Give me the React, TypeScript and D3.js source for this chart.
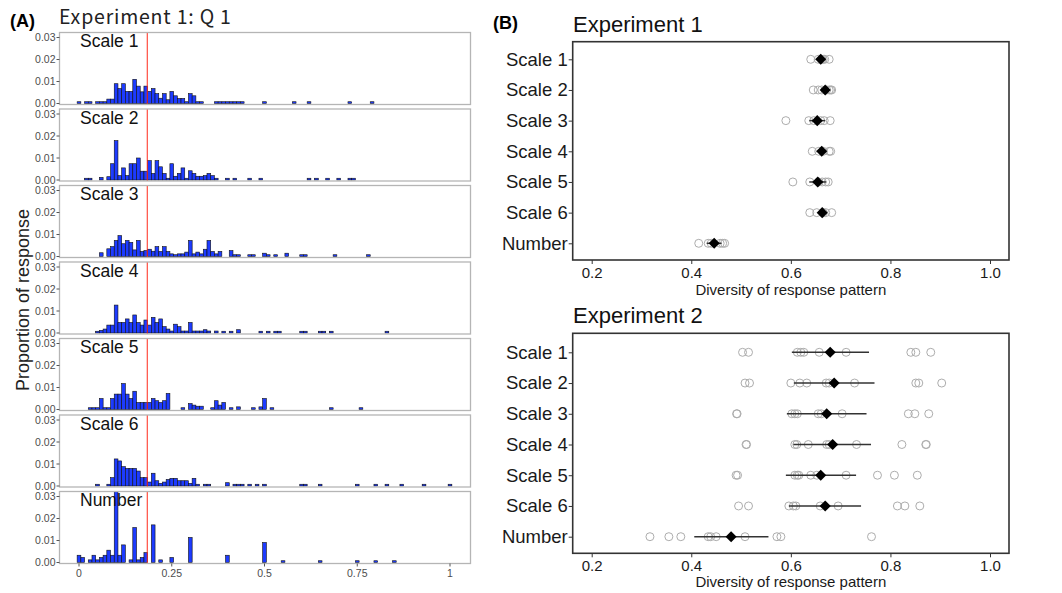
import React, { Component } from 'react';
import * as d3 from 'd3';

// (A) histograms: bin index (0.01 wide) and proportion of response
const panelNames = ['Scale 1', 'Scale 2', 'Scale 3', 'Scale 4', 'Scale 5', 'Scale 6', 'Number'];

const scale1Bins = [0, 2, 3, 5, 6, 7, 8, 9, 10, 11, 12, 13, 14, 15, 16, 17, 18, 19, 20, 21, 22, 23, 24, 25, 26, 27, 28, 29, 30, 31, 32, 33, 37, 38, 39, 40, 41, 42, 43, 44, 50, 58, 62, 73, 79];
const scale1Prop = [0.0008, 0.0008, 0.0008, 0.0008, 0.0008, 0.0008, 0.002, 0.002, 0.009, 0.0068, 0.009, 0.0055, 0.0055, 0.011, 0.0079, 0.0053, 0.0079, 0.0055, 0.0068, 0.0045, 0.0024, 0.0045, 0.0017, 0.0055, 0.0035, 0.0023, 0.0023, 0.0008, 0.0045, 0.0035, 0.0008, 0.0008, 0.0008, 0.0008, 0.0008, 0.0008, 0.0008, 0.0008, 0.0008, 0.0008, 0.0008, 0.0008, 0.0008, 0.0008, 0.0008];

const scale2Bins = [2, 3, 6, 8, 9, 10, 11, 12, 13, 14, 15, 16, 17, 18, 19, 20, 21, 22, 23, 24, 25, 26, 27, 28, 29, 30, 31, 32, 33, 34, 35, 36, 37, 40, 42, 46, 49, 62, 64, 67, 70, 73, 74];
const scale2Prop = [0.0008, 0.0008, 0.0012, 0.0015, 0.0074, 0.0179, 0.002, 0.0055, 0.002, 0.0074, 0.0074, 0.01, 0.004, 0.004, 0.0088, 0.003, 0.0088, 0.006, 0.003, 0.0008, 0.0074, 0.0017, 0.003, 0.0055, 0.0008, 0.0042, 0.003, 0.0017, 0.0017, 0.002, 0.003, 0.002, 0.0008, 0.0008, 0.0008, 0.0008, 0.0008, 0.0008, 0.0008, 0.0008, 0.0008, 0.0008, 0.0008];

const scale3Bins = [6, 8, 9, 10, 11, 12, 13, 14, 15, 16, 17, 18, 19, 20, 21, 22, 23, 24, 25, 26, 27, 28, 29, 30, 31, 32, 33, 34, 35, 36, 37, 38, 41, 42, 43, 46, 47, 50, 51, 53, 56, 60, 61, 69, 78];
const scale3Prop = [0.0017, 0.0035, 0.0045, 0.0073, 0.0095, 0.0058, 0.0073, 0.0064, 0.003, 0.0073, 0.0023, 0.0027, 0.0033, 0.0024, 0.0045, 0.0023, 0.0045, 0.0023, 0.0012, 0.0008, 0.0012, 0.0012, 0.002, 0.0073, 0.0012, 0.002, 0.0012, 0.0033, 0.0073, 0.0023, 0.0012, 0.0023, 0.0027, 0.0008, 0.0008, 0.0008, 0.0008, 0.0015, 0.0008, 0.0008, 0.0015, 0.0008, 0.0008, 0.0008, 0.0008];

const scale4Bins = [5, 6, 7, 8, 9, 10, 11, 12, 13, 14, 15, 16, 17, 18, 19, 20, 21, 22, 23, 24, 25, 26, 27, 28, 29, 30, 31, 32, 33, 34, 35, 37, 39, 41, 43, 49, 51, 53, 54, 60, 61, 65, 66, 68, 83];
const scale4Prop = [0.0008, 0.0012, 0.0018, 0.0036, 0.0036, 0.0127, 0.0048, 0.0048, 0.0064, 0.0048, 0.0082, 0.0048, 0.0036, 0.0059, 0.0036, 0.0071, 0.0048, 0.0064, 0.0029, 0.0018, 0.0009, 0.004, 0.0029, 0.0009, 0.0009, 0.0048, 0.0009, 0.0009, 0.0009, 0.0015, 0.0009, 0.0009, 0.0008, 0.0008, 0.0015, 0.0008, 0.0008, 0.0008, 0.0008, 0.0008, 0.0008, 0.0008, 0.0008, 0.0008, 0.0008];

const scale5Bins = [3, 4, 5, 6, 7, 8, 9, 10, 11, 12, 13, 14, 15, 16, 17, 18, 19, 20, 21, 22, 23, 24, 28, 30, 31, 32, 33, 36, 37, 38, 39, 41, 43, 47, 49, 50, 52, 68, 76];
const scale5Prop = [0.0008, 0.0008, 0.0008, 0.005, 0.0008, 0.0008, 0.005, 0.007, 0.007, 0.0118, 0.007, 0.005, 0.0083, 0.0032, 0.0032, 0.0032, 0.0032, 0.005, 0.004, 0.0032, 0.004, 0.0073, 0.0008, 0.0027, 0.002, 0.0015, 0.0015, 0.0008, 0.004, 0.002, 0.0032, 0.0008, 0.0012, 0.0008, 0.0012, 0.005, 0.0008, 0.0008, 0.0008];

const scale6Bins = [5, 8, 9, 10, 11, 12, 13, 14, 15, 16, 17, 18, 19, 20, 21, 22, 23, 24, 25, 26, 27, 28, 29, 30, 31, 32, 34, 35, 40, 42, 43, 44, 46, 48, 50, 60, 61, 65, 75, 80, 83, 87, 93, 100];
const scale6Prop = [0.0008, 0.0008, 0.0038, 0.0123, 0.0114, 0.0088, 0.008, 0.008, 0.008, 0.0068, 0.0038, 0.0038, 0.0018, 0.0058, 0.0024, 0.0012, 0.0018, 0.003, 0.0035, 0.0035, 0.0024, 0.0024, 0.0024, 0.0012, 0.0035, 0.0008, 0.0008, 0.0008, 0.0015, 0.0008, 0.0008, 0.0008, 0.0008, 0.0008, 0.0008, 0.0008, 0.0008, 0.0008, 0.0008, 0.0008, 0.0008, 0.0008, 0.0008, 0.0008];

const numberBins = [0, 1, 3, 4, 5, 6, 7, 8, 9, 10, 11, 12, 14, 15, 16, 17, 18, 20, 22, 25, 30, 40, 50, 55, 65, 75, 80, 85];
const numberProp = [0.0033, 0.0023, 0.0012, 0.0033, 0.0012, 0.0023, 0.0033, 0.0056, 0.0033, 0.045, 0.0033, 0.008, 0.0012, 0.0159, 0.0012, 0.0023, 0.0045, 0.0171, 0.0012, 0.0023, 0.0114, 0.0033, 0.0091, 0.0008, 0.0008, 0.0008, 0.0008, 0.0008];

const histBins = [scale1Bins, scale2Bins, scale3Bins, scale4Bins, scale5Bins, scale6Bins, numberBins];
const histProps = [scale1Prop, scale2Prop, scale3Prop, scale4Prop, scale5Prop, scale6Prop, numberProp];
const cutoff = 0.184;
const histYTicks = [0, 0.01, 0.02, 0.03];
const histXTicks = [0, 0.25, 0.5, 0.75, 1];
const histXLabels = ['0', '0.25', '0.5', '0.75', '1'];

// (B) diversity of response pattern
const conditions = ['Scale 1', 'Scale 2', 'Scale 3', 'Scale 4', 'Scale 5', 'Scale 6', 'Number'];
const divTicks = [0.2, 0.4, 0.6, 0.8, 1.0];

const exp1Points = [
  [0.64, 0.655, 0.662, 0.665, 0.668, 0.677],
  [0.645, 0.655, 0.662, 0.672, 0.677, 0.68, 0.682],
  [0.59, 0.636, 0.646, 0.66, 0.667, 0.679],
  [0.643, 0.656, 0.665, 0.677, 0.68],
  [0.604, 0.638, 0.656, 0.663, 0.67, 0.675],
  [0.638, 0.652, 0.665, 0.67, 0.682],
  [0.415, 0.434, 0.44, 0.458, 0.463, 0.467],
];
const exp1Mean = [0.66, 0.669, 0.653, 0.662, 0.654, 0.663, 0.446];
const exp1Low = [0.652, 0.662, 0.637, 0.655, 0.637, 0.655, 0.431];
const exp1High = [0.668, 0.676, 0.669, 0.669, 0.671, 0.671, 0.461];

const exp2Points = [
  [0.503, 0.515, 0.613, 0.62, 0.626, 0.657, 0.711, 0.841, 0.851, 0.881],
  [0.508, 0.517, 0.6, 0.618, 0.632, 0.671, 0.677, 0.728, 0.851, 0.857, 0.903],
  [0.491, 0.492, 0.602, 0.608, 0.613, 0.655, 0.661, 0.703, 0.836, 0.849, 0.877],
  [0.51, 0.511, 0.608, 0.612, 0.635, 0.672, 0.677, 0.732, 0.823, 0.871, 0.872],
  [0.49, 0.493, 0.608, 0.613, 0.616, 0.64, 0.652, 0.711, 0.774, 0.808, 0.854],
  [0.495, 0.515, 0.596, 0.605, 0.61, 0.659, 0.695, 0.814, 0.829, 0.859],
  [0.317, 0.355, 0.379, 0.434, 0.439, 0.45, 0.508, 0.572, 0.58, 0.762],
];
const exp2Mean = [0.679, 0.687, 0.672, 0.684, 0.66, 0.669, 0.48];
const exp2Low = [0.602, 0.606, 0.592, 0.605, 0.59, 0.596, 0.406];
const exp2High = [0.757, 0.768, 0.752, 0.761, 0.731, 0.741, 0.555];

class App extends Component {
  componentDidMount = () => {
    this.drawChart();
  }

  drawChart = () => {
    const root = d3.select('#chart');
    root.selectAll('*').remove();

    const svg = root.append('svg')
      .attr('width', 1062)
      .attr('height', 593)
      .style('position', 'absolute')
      .style('left', 0)
      .style('top', 0)
      .style('background', '#fff')
      .attr('font-family', 'Liberation Sans, Arial, sans-serif');

    // ---------- (A) ----------
    svg.append('text').attr('x', 10).attr('y', 27)
      .attr('font-size', 18).attr('font-weight', 'bold').text('(A)');
    svg.append('text').attr('x', 59).attr('y', 24)
      .attr('font-size', 19.5).attr('letter-spacing', 0.8)
      .attr('font-family', 'Noto Sans CJK JP, sans-serif')
      .attr('fill', '#222').text('Experiment 1: Q 1');
    svg.append('text')
      .attr('transform', 'translate(29,300) rotate(-90)')
      .attr('text-anchor', 'middle')
      .attr('font-size', 18).attr('fill', '#222')
      .text('Proportion of response');

    const left = 59.5, right = 470.5;
    const xA = d3.scaleLinear().domain([0, 1]).range([79, 450]);
    const binW = xA(0.01) - xA(0);

    panelNames.forEach((name, k) => {
      const top = 32.5 + 76.5 * k;
      const bottom = top + 72;
      const yA = d3.scaleLinear().domain([0, 0.03]).range([bottom - 1, top + 5]);
      const g = svg.append('g');

      g.append('clipPath').attr('id', 'clip' + k)
        .append('rect').attr('x', left).attr('y', top)
        .attr('width', right - left).attr('height', bottom - top);

      const bars = histBins[k].map((b, i) => ({ bin: b, p: histProps[k][i] }));
      g.append('g').attr('clip-path', 'url(#clip' + k + ')')
        .selectAll('rect')
        .data(bars)
        .enter()
        .append('rect')
        .attr('x', d => xA(d.bin * 0.01 - 0.005))
        .attr('y', d => yA(d.p))
        .attr('width', binW)
        .attr('height', d => yA(0) - yA(d.p))
        .attr('fill', '#1d3bff')
        .attr('stroke', '#111')
        .attr('stroke-width', 0.6);

      g.append('line')
        .attr('x1', xA(cutoff)).attr('x2', xA(cutoff))
        .attr('y1', top).attr('y2', bottom)
        .attr('stroke', '#ff2a1a').attr('stroke-width', 1);

      g.append('rect').attr('x', left).attr('y', top)
        .attr('width', right - left).attr('height', bottom - top)
        .attr('fill', 'none').attr('stroke', '#b5b5b5').attr('stroke-width', 1.3);

      g.append('text').attr('x', 80).attr('y', top + 14.5)
        .attr('font-size', 17.5).attr('fill', '#111').text(name);

      histYTicks.forEach(t => {
        g.append('line').attr('x1', left - 3).attr('x2', left)
          .attr('y1', yA(t)).attr('y2', yA(t)).attr('stroke', '#555');
        g.append('text').attr('x', left - 4).attr('y', yA(t))
          .attr('dy', '0.35em').attr('text-anchor', 'end')
          .attr('font-size', 10.5).attr('fill', '#4d4d4d')
          .text(d3.format('.2f')(t));
      });

      if (k === panelNames.length - 1) {
        histXTicks.forEach((t, i) => {
          g.append('line').attr('x1', xA(t)).attr('x2', xA(t))
            .attr('y1', bottom).attr('y2', bottom + 3).attr('stroke', '#555');
          g.append('text').attr('x', xA(t)).attr('y', bottom + 13)
            .attr('text-anchor', 'middle').attr('font-size', 10.5)
            .attr('fill', '#4d4d4d').text(histXLabels[i]);
        });
      }
    });

    // ---------- (B) ----------
    svg.append('text').attr('x', 493).attr('y', 29)
      .attr('font-size', 18).attr('font-weight', 'bold').text('(B)');

    const xB = d3.scaleLinear().domain([0.2, 1.0]).range([591.7, 990]);
    const boxL = 572.7, boxR = 1009;

    const drawDot = (title, top, bottom, yFirst, yLast, points, mean, lo, hi, titleY) => {
      const g = svg.append('g');
      const yB = d3.scalePoint().domain(conditions).range([yFirst, yLast]);

      g.append('text').attr('x', 573).attr('y', top - 10)
        .attr('font-size', 22).attr('fill', '#111').text(title);

      const dots = [];
      points.forEach((arr, i) => arr.forEach(v => dots.push({ c: conditions[i], v })));
      g.selectAll('circle')
        .data(dots)
        .enter()
        .append('circle')
        .attr('cx', d => xB(d.v))
        .attr('cy', d => yB(d.c))
        .attr('r', 4)
        .attr('fill', 'none')
        .attr('stroke', '#adadad')
        .attr('stroke-width', 1);

      g.selectAll('line.err')
        .data(conditions)
        .enter()
        .append('line')
        .attr('class', 'err')
        .attr('x1', (d, i) => xB(lo[i]))
        .attr('x2', (d, i) => xB(hi[i]))
        .attr('y1', d => yB(d))
        .attr('y2', d => yB(d))
        .attr('stroke', '#333')
        .attr('stroke-width', 1.5);

      g.selectAll('path.mean')
        .data(conditions)
        .enter()
        .append('path')
        .attr('class', 'mean')
        .attr('d', d3.symbol(d3.symbolSquare, 62))
        .attr('transform', (d, i) => `translate(${xB(mean[i])},${yB(d)}) rotate(45)`)
        .attr('fill', '#000');

      g.append('rect').attr('x', boxL).attr('y', top)
        .attr('width', boxR - boxL).attr('height', bottom - top)
        .attr('fill', 'none').attr('stroke', '#333').attr('stroke-width', 1.6);

      const xAxis = g.append('g')
        .attr('transform', `translate(0,${bottom})`)
        .call(d3.axisBottom(xB).tickValues(divTicks).tickFormat(d3.format('.1f')).tickSize(4).tickPadding(3));
      xAxis.select('.domain').remove();
      xAxis.selectAll('line').attr('stroke', '#333');
      xAxis.selectAll('text').attr('font-size', 15).attr('fill', '#1a1a1a')
        .attr('font-family', 'Liberation Sans, Arial, sans-serif');

      const yAxis = g.append('g')
        .attr('transform', `translate(${boxL},0)`)
        .call(d3.axisLeft(yB).tickSize(4).tickPadding(1));
      yAxis.select('.domain').remove();
      yAxis.selectAll('line').attr('stroke', '#333');
      yAxis.selectAll('text').attr('font-size', 18.5).attr('fill', '#1a1a1a')
        .attr('font-family', 'Liberation Sans, Arial, sans-serif');

      g.append('text').attr('x', (boxL + boxR) / 2).attr('y', titleY)
        .attr('text-anchor', 'middle').attr('font-size', 15).attr('fill', '#1a1a1a')
        .text('Diversity of response pattern');
    };

    drawDot('Experiment 1', 41.7, 260, 59.3, 243.3, exp1Points, exp1Mean, exp1Low, exp1High, 294.5);
    drawDot('Experiment 2', 333.3, 553.3, 352.3, 536.7, exp2Points, exp2Mean, exp2Low, exp2High, 587);
  }

  render = () => {
    return (
      <div id="chart"></div>
    );
  }
}

export default App;
